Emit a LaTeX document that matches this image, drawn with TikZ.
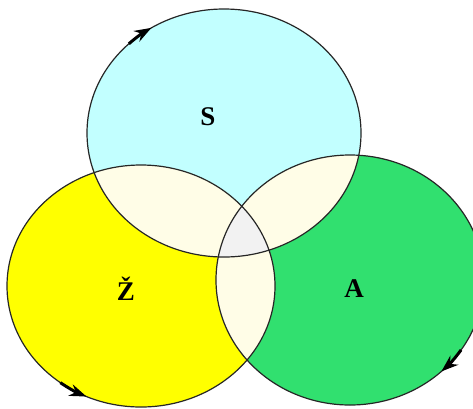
\documentclass[tikz,border=0pt]{standalone}
\usepackage{fontspec}
\setmainfont{Liberation Serif}
\usetikzlibrary{arrows.meta}
\definecolor{scol}{HTML}{C2FFFF}
\definecolor{zcol}{HTML}{FFFF00}
\definecolor{acol}{HTML}{31E06F}
\definecolor{pcol}{HTML}{FFFDE7}
\definecolor{ccol}{HTML}{F2F2F2}
\begin{document}
\begin{tikzpicture}[x=1pt,y=-1pt,
  setlabel/.style={font=\fontsize{27}{30}\selectfont\bfseries, inner sep=0pt},
  outline/.style={draw=black!85, line width=1.2pt},
  dirarrow/.style={line width=3pt, -{Stealth[length=17pt,width=12pt]}}]
\useasboundingbox (0,0) rectangle (473,408);
% base fills
\fill[scol] (224,133) ellipse [x radius=137, y radius=124];
\fill[zcol] (141,286) ellipse [x radius=134, y radius=121];
\fill[acol] (350,280) ellipse [x radius=134, y radius=125];
% pairwise overlaps
\begin{scope}
  \clip (224,133) ellipse [x radius=137, y radius=124];
  \fill[pcol] (141,286) ellipse [x radius=134, y radius=121];
  \fill[pcol] (350,280) ellipse [x radius=134, y radius=125];
\end{scope}
\begin{scope}
  \clip (141,286) ellipse [x radius=134, y radius=121];
  \fill[pcol] (350,280) ellipse [x radius=134, y radius=125];
\end{scope}
% triple overlap
\begin{scope}
  \clip (224,133) ellipse [x radius=137, y radius=124];
  \clip (141,286) ellipse [x radius=134, y radius=121];
  \fill[ccol] (350,280) ellipse [x radius=134, y radius=125];
\end{scope}
% outlines
\draw[outline] (224,133) ellipse [x radius=137, y radius=124];
\draw[outline] (141,286) ellipse [x radius=134, y radius=121];
\draw[outline] (350,280) ellipse [x radius=134, y radius=125];
% direction arrows
\coordinate (sarr) at ([shift={(224,133)}]226:137 and 124);
\coordinate (zarr) at ([shift={(141,286)}]127:134 and 121);
\coordinate (aarr) at ([shift={(350,280)}]34:134 and 125);
\draw[dirarrow] (sarr) arc[start angle=226, end angle=238, x radius=137, y radius=124];
\draw[dirarrow] (zarr) arc[start angle=127, end angle=114, x radius=134, y radius=121];
\draw[dirarrow] (aarr) arc[start angle=34, end angle=47, x radius=134, y radius=125];
% labels
\node[setlabel] (lS) at (208,117) {S};
\node[setlabel] (lZ) at (126,289) {Ž};
\node[setlabel] (lA) at (354,289) {A};
\end{tikzpicture}
\end{document}
